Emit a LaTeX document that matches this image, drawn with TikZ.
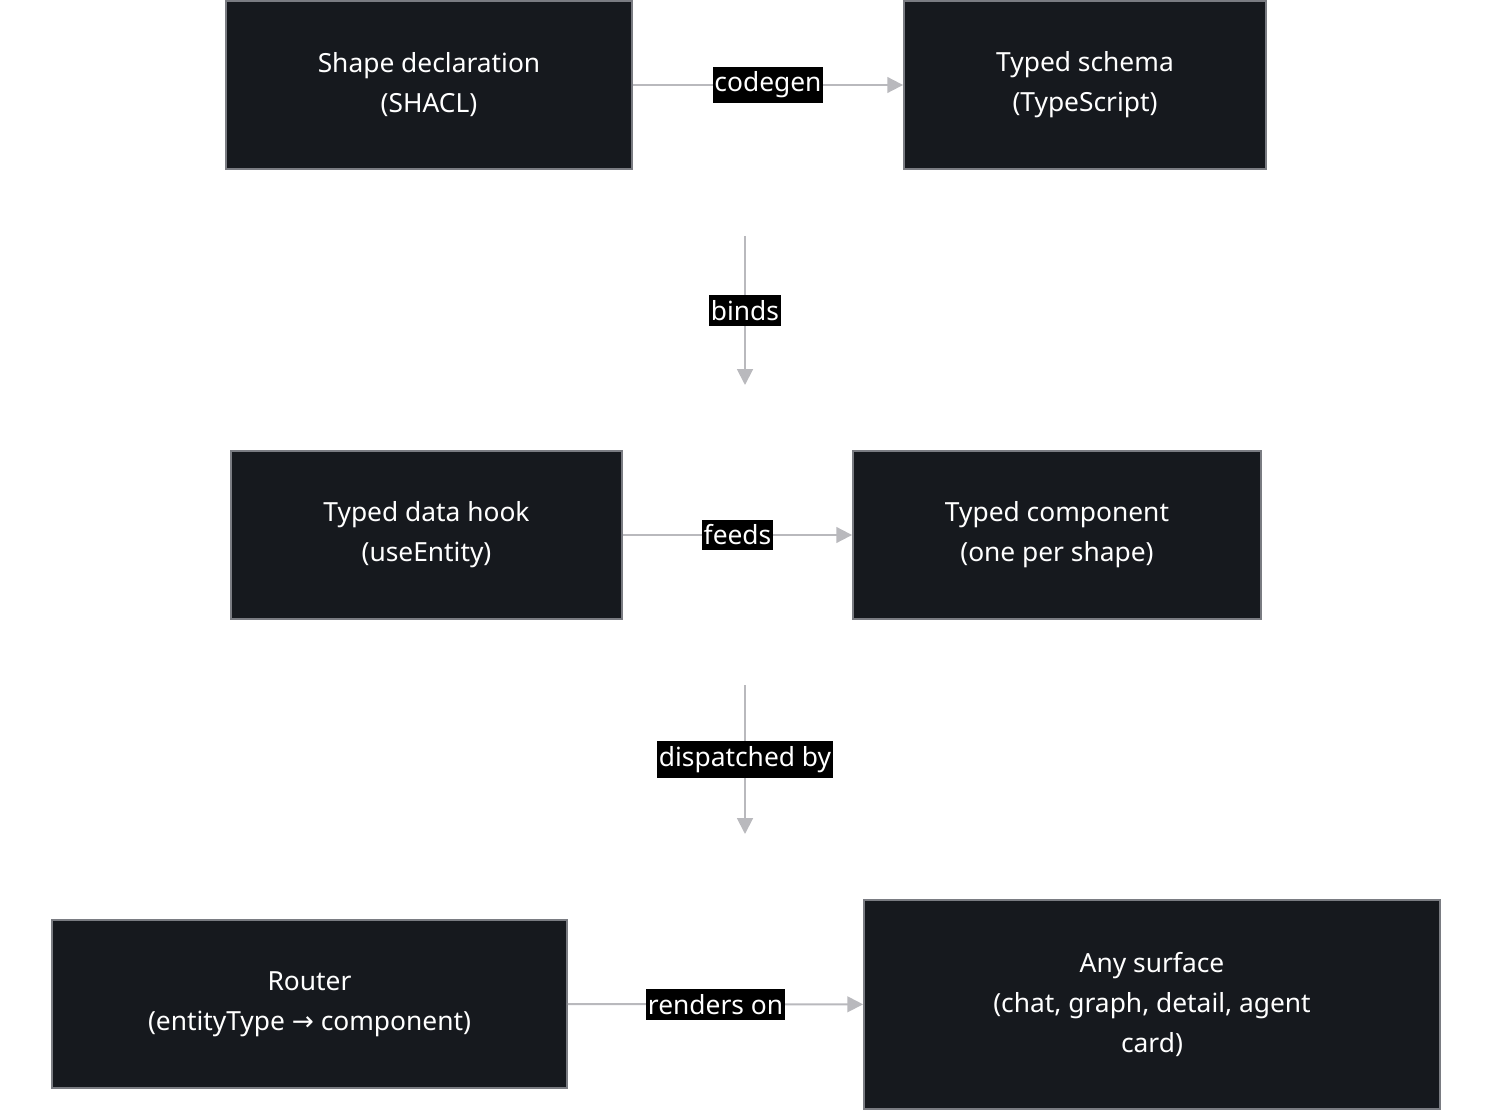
\documentclass[tikz,border=0pt]{standalone}
\usepackage{fontspec}
\setmainfont{Noto Sans}
\newfontfamily\symfont{DejaVu Sans}
\usetikzlibrary{arrows.meta}
\definecolor{boxfill}{HTML}{16191E}
\definecolor{boxline}{HTML}{7A7C82}
\definecolor{wire}{HTML}{B9B9BD}
\tikzset{
  stage/.style={draw=boxline, line width=1.1pt, fill=boxfill, text=white,
    align=center, font=\fontsize{15}{22.7}\selectfont, inner sep=0pt},
  tag/.style={fill=black, text=white, inner xsep=1pt, inner ysep=3pt,
    font=\fontsize{15}{17}\selectfont},
  link/.style={draw=wire, line width=1.1pt, -{Triangle[length=9pt, width=9pt]}}
}
\begin{document}
\begin{tikzpicture}[x=0.02cm, y=-0.02cm]
  \useasboundingbox (0,0) rectangle (1494,1111);
  % boxes
  \node[stage, minimum width=8.12cm, minimum height=3.36cm] (shape) at (429,85) {Shape declaration\\(SHACL)};
  \node[stage, minimum width=7.24cm, minimum height=3.36cm] (schema) at (1085,85) {Typed schema\\(TypeScript)};
  \node[stage, minimum width=7.82cm, minimum height=3.36cm] (hook) at (426.5,535) {Typed data hook\\(useEntity)};
  \node[stage, minimum width=8.16cm, minimum height=3.36cm] (comp) at (1057,535) {Typed component\\(one per shape)};
  \node[stage, minimum width=10.3cm, minimum height=3.36cm] (router) at (309.5,1004) {Router\\(entityType {\symfont →} component)};
  \node[stage, minimum width=11.52cm, minimum height=4.18cm] (surface) at (1152,1004.5) {Any surface\\(chat, graph, detail, agent\\card)};
  % free ends of the vertical links
  \coordinate (bindsTop) at (745,236);
  \coordinate (bindsEnd) at (745,385);
  \coordinate (dispTop) at (745,685);
  \coordinate (dispEnd) at (745,834);
  % links
  \draw[link] (shape) -- node[tag] {codegen} (schema);
  \draw[link] (bindsTop) -- node[tag] {binds} (bindsEnd);
  \draw[link] (hook) -- node[tag] {feeds} (comp);
  \draw[link] (dispTop) -- node[tag] {dispatched by} (dispEnd);
  \draw[link] (router) -- node[tag] {renders on} (surface);
\end{tikzpicture}
\end{document}
